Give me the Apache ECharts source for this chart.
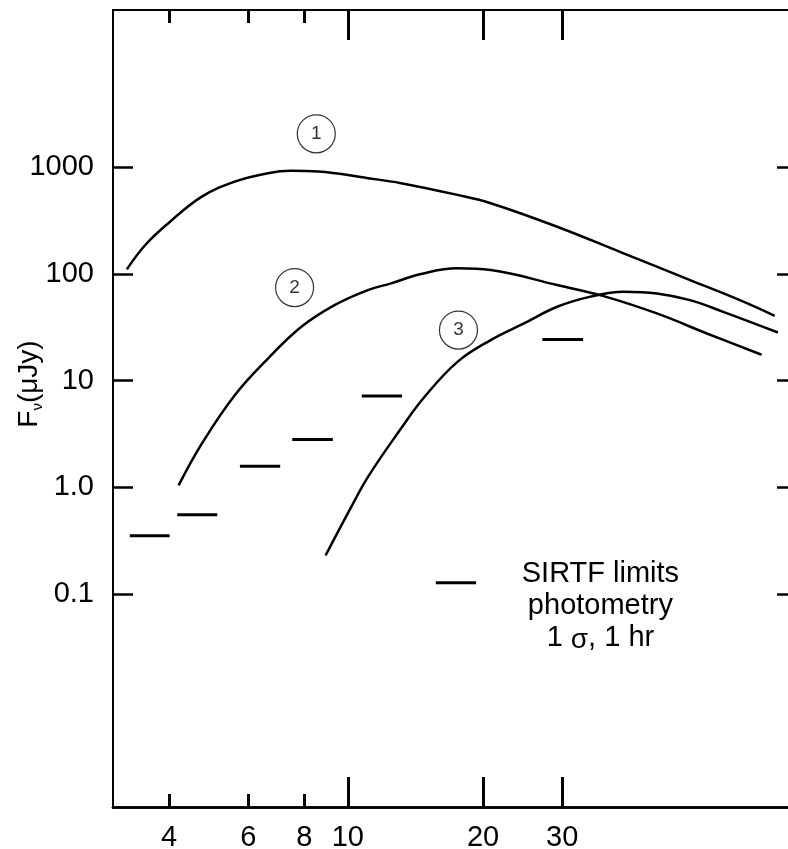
<!DOCTYPE html>
<html><head><meta charset="utf-8">
<script src="https://cdn.jsdelivr.net/npm/echarts@6/dist/echarts.min.js"></script>
<style>html,body{margin:0;padding:0;background:#fff}#c{width:788px;height:849px}</style>
</head><body><div id="c"></div>
<script>
// wavelength (micron) and flux density (microJy)
const curve1X = [3.22, 3.54, 3.99, 4.73, 5.60, 6.64, 7.48, 8.58, 11.08, 13.13, 17.54, 20.80, 29.24, 41.1, 57.8, 74.6, 89.2];
const curve1Y = [110.7, 187.3, 301.6, 533, 737, 884, 929, 915, 793, 712, 552.7, 462, 278, 156.5, 87.8, 56.9, 40.6];
const curve2X = [4.20, 4.73, 5.60, 6.64, 7.88, 9.34, 11.08, 12.48, 14.54, 17.54, 20.80, 29.24, 37.1, 48.75, 63.0, 83.4];
const curve2Y = [1.04, 2.56, 7.29, 16.1, 32.0, 51.1, 70.7, 81.8, 100.0, 113.1, 109, 78.8, 62.1, 42.7, 27.7, 17.5];
const curve3X = [8.92, 10.17, 11.08, 13.13, 14.79, 17.54, 20.80, 24.66, 29.24, 34.7, 41.1, 48.75, 57.8, 68.5, 90.7];
const curve3Y = [0.229, 0.650, 1.245, 3.55, 6.98, 15.0, 24.0, 34.4, 49.3, 61.4, 68.2, 65.8, 56.9, 44.2, 28.3];
// SIRTF photometric limits: band start, band end, flux
const limitStart = [3.27, 4.17, 5.75, 7.52, 10.74, 27.1];
const limitEnd   = [4.01, 5.12, 7.07, 9.26, 13.2, 33.4];
const limitFlux  = [0.350, 0.551, 1.57, 2.80, 7.18, 24.3];
// legend sample bar: start, end, flux
const legendBar = [15.7, 19.3, 0.127];
// circled curve labels
const markerName = ['1', '2', '3'];
const markerX = [8.505, 7.61, 17.63];
const markerY = [2069, 74.7, 29.8];
// note text anchor
const noteX = 36.5, noteY = 0.0775;
const noteLines = ['SIRTF limits', 'photometry', '1 {s|σ}, 1 hr'];
// ticks
const xLabelTicks = [4, 6, 8, 10, 20, 30];
const xMajorTicks = [10, 20, 30];
const xMinorTicks = [4, 6, 8];
const yTicks = [0.1, 1, 10, 100, 1000];

const FONT = 'Liberation Sans, Arial, sans-serif';
const chart = echarts.init(document.getElementById('c'));
const zip = (xs, ys) => xs.map((x, i) => [x, ys[i]]);

function xAx(pos, ticks, len, withLabel, lineW) {
  return {
    type: 'log', min: 3, max: 100, position: pos,
    axisLine: { show: true, lineStyle: { color: '#000', width: lineW } },
    axisTick: { show: true, inside: true, length: len, customValues: ticks, lineStyle: { color: '#000', width: 3 } },
    axisLabel: withLabel ? { show: true, customValues: xLabelTicks, fontSize: 29, fontFamily: FONT, color: '#000', margin: 16,
      formatter: v => String(Math.round(v)) } : { show: false },
    splitLine: { show: false }, minorTick: { show: false }
  };
}
function yAx(pos, withLabel) {
  return {
    type: 'log', min: 0.001, max: 30000, position: pos,
    axisLine: { show: true, lineStyle: { color: '#000', width: 2 } },
    axisTick: { show: true, inside: true, length: 20, customValues: yTicks, lineStyle: { color: '#000', width: 2.5 } },
    axisLabel: withLabel ? { show: true, customValues: yTicks, fontSize: 29, fontFamily: FONT, color: '#000', margin: 19,
      formatter: v => v === 1 ? '1.0' : (v < 1 ? v.toFixed(1) : String(Math.round(v))) } : { show: false },
    splitLine: { show: false }
  };
}

const series = [];
[[curve1X, curve1Y], [curve2X, curve2Y], [curve3X, curve3Y]].forEach(([xs, ys]) => {
  series.push({ type: 'line', data: zip(xs, ys), smooth: 0.4, showSymbol: false, silent: true,
    lineStyle: { color: '#000', width: 2.5 } });
});
limitStart.forEach((s, i) => {
  series.push({ type: 'line', data: [[s, limitFlux[i]], [limitEnd[i], limitFlux[i]]], showSymbol: false,
    lineStyle: { color: '#000', width: 3 } });
});
series.push({ type: 'line', data: [[legendBar[0], legendBar[2]], [legendBar[1], legendBar[2]]], showSymbol: false,
  lineStyle: { color: '#000', width: 3 } });
series.push({ type: 'scatter', symbol: 'circle', symbolSize: 38, z: 5,
  data: markerName.map((n, i) => ({ name: n, value: [markerX[i], markerY[i]] })),
  itemStyle: { color: '#fff', borderColor: '#000', borderWidth: 1.2 },
  label: { show: true, position: 'inside', formatter: '{b}', fontSize: 19, fontFamily: FONT, color: '#000' } });
// invisible anchor point for the note, the note itself is drawn as graphic text at its pixel position
series.push({ type: 'scatter', symbol: 'circle', symbolSize: 0, silent: true,
  data: [[noteX, noteY]], itemStyle: { color: 'rgba(0,0,0,0)' } });

chart.setOption({
  animation: false,
  backgroundColor: '#fff',
  grid: { left: 113, top: 10, width: 684, height: 797, containLabel: false, outerBoundsMode: 'none' },
  xAxis: [xAx('bottom', xMajorTicks, 30, true, 2.5), xAx('bottom', xMinorTicks, 13, false, 2.5),
          xAx('top', xMajorTicks, 30, false, 2), xAx('top', xMinorTicks, 13, false, 2)],
  yAxis: [yAx('left', true), yAx('right', false)],
  series: series,
  graphic: [{
    type: 'text', x: 29, y: 384, rotation: Math.PI / 2,
    style: { text: '{a|F}{s|ν}{a|(μJy)}', align: 'center', verticalAlign: 'middle', fill: '#000',
      rich: { a: { fontSize: 28, fontFamily: FONT, lineHeight: 32 },
              s: { fontSize: 15, fontFamily: FONT, lineHeight: 32, verticalAlign: 'bottom', padding: [14, 0, 0, 0] } } }
  }]
});
const notePos = chart.convertToPixel({ gridIndex: 0 }, [noteX, noteY]);
chart.setOption({
  graphic: [{}, {
    type: 'text', x: notePos[0], y: notePos[1], z: 10,
    style: { text: noteLines.join('\n'), align: 'center', verticalAlign: 'middle', fill: '#000',
      fontSize: 29, lineHeight: 32, fontFamily: FONT,
      rich: { s: { fontSize: 28, fontFamily: FONT, fill: '#000', lineHeight: 26, padding: [6, 0, 0, 0] } } }
  }]
});
</script></body></html>
